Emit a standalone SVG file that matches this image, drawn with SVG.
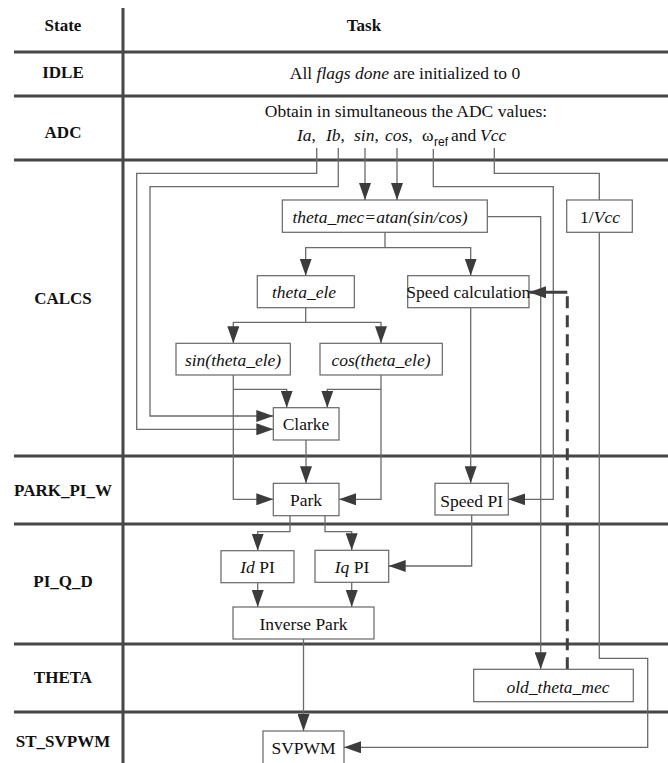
<svg xmlns="http://www.w3.org/2000/svg" width="668" height="763" viewBox="0 0 668 763">
<style>
text{font-family:"Liberation Serif","Times New Roman",serif;font-size:17.5px;fill:#111}
.lbl{font-weight:bold;text-anchor:middle;font-size:17px}
.c{text-anchor:middle}
.i{font-style:italic}
.grid{stroke:#474747;stroke-width:3;fill:none}
.box rect{fill:#fff;stroke:#666;stroke-width:1.2}
.cn{fill:none;stroke:#6a6a6a;stroke-width:1.3}
.dash{fill:none;stroke:#404040;stroke-width:3;stroke-dasharray:12 7}
</style>
<defs>
<marker id="ah" markerUnits="userSpaceOnUse" markerWidth="18" markerHeight="12" refX="17" refY="6" orient="auto">
<path d="M0,0 L17,6 L0,12 z" fill="#3c3c3c"/>
</marker>
</defs>
<rect width="668" height="763" fill="#fff"/>
<g id="grid">
<path class="grid" d="M123,8 V763 M14,52 H668 M14,96 H668 M14,160 H668 M14,456 H668 M14,524 H668 M14,644 H668 M14,712 H668"/>
</g>
<g id="labels">
<text class="lbl" x="63" y="31">State</text>
<text class="lbl" x="364" y="31">Task</text>
<text class="lbl" x="63" y="78">IDLE</text>
<text class="lbl" x="63" y="138">ADC</text>
<text class="lbl" x="63" y="304">CALCS</text>
<text class="lbl" x="63" y="496">PARK_PI_W</text>
<text class="lbl" x="63" y="587">PI_Q_D</text>
<text class="lbl" x="63" y="683">THETA</text>
<text class="lbl" x="63" y="747">ST_SVPWM</text>
<text class="c" x="405" y="79">All <tspan class="i">flags done</tspan> are initialized to 0</text>
<text class="c" x="406" y="117">Obtain in simultaneous the ADC values:</text>
<text y="141"><tspan class="i" x="297">Ia</tspan>, <tspan class="i" x="326">Ib</tspan>, <tspan class="i" x="354">sin</tspan>, <tspan class="i" x="385">cos</tspan>, <tspan x="422">ω</tspan><tspan x="434" dy="5" font-size="12" font-family="Liberation Sans, Arial, sans-serif">ref</tspan><tspan dy="-5" x="451">and</tspan><tspan class="i" x="480">Vcc</tspan></text>
</g>
<g id="connectors">
<path class="cn" d="M316.7,148 V173.3 H136.7 V429.3 H273.3" marker-end="url(#ah)"/>
<path class="cn" d="M338.3,148 V186.7 H150 V416 H273.3" marker-end="url(#ah)"/>
<path class="cn" d="M365,148 V200" marker-end="url(#ah)"/>
<path class="cn" d="M397,148 V200" marker-end="url(#ah)"/>
<path class="cn" d="M433.3,149 V186.7 H553.3 V499.3 H508.3" marker-end="url(#ah)"/>
<path class="cn" d="M494.3,148 V173.3 H599.3 V200"/>
<path class="cn" d="M599.3,232.3 V658.3 H647.7 V747.3 H344" marker-end="url(#ah)"/>
<path class="cn" d="M487.3,216.7 H540.7 V669.3" marker-end="url(#ah)"/>
<path class="cn" d="M385,232.3 V247.7 H305.7 V275.7" marker-end="url(#ah)"/>
<path class="cn" d="M385,247.7 H470.7 V275.7" marker-end="url(#ah)"/>
<path class="cn" d="M305.7,307.7 V322.3 H233.3 V343.3" marker-end="url(#ah)"/>
<path class="cn" d="M305.7,322.3 H381 V343.3" marker-end="url(#ah)"/>
<path class="cn" d="M233.3,375 V499.3 H273.3" marker-end="url(#ah)"/>
<path class="cn" d="M233.3,389.3 H286.7 V407.7" marker-end="url(#ah)"/>
<path class="cn" d="M381,375 V499.3 H339" marker-end="url(#ah)"/>
<path class="cn" d="M381,389.3 H327.3 V407.7" marker-end="url(#ah)"/>
<path class="cn" d="M306,440 V483.3" marker-end="url(#ah)"/>
<path class="cn" d="M470.7,307.7 V483.3" marker-end="url(#ah)"/>
<path class="cn" d="M290,515.7 V531.7 H257.7 V550.7" marker-end="url(#ah)"/>
<path class="cn" d="M325,515.7 V531.7 H351.7 V550.3" marker-end="url(#ah)"/>
<path class="cn" d="M471.7,515 V566 H388.7" marker-end="url(#ah)"/>
<path class="cn" d="M257.7,582.7 V607" marker-end="url(#ah)"/>
<path class="cn" d="M351.7,582.3 V607" marker-end="url(#ah)"/>
<path class="cn" d="M303.5,639 V731" marker-end="url(#ah)"/>
<path class="dash" d="M567.3,669.3 V292.3"/>
<path d="M567.3,292.3 H529" fill="none" stroke="#404040" stroke-width="3" marker-end="url(#ah)"/>
</g>
<g id="n_theta_mec" class="box"><rect x="282.3" y="200" width="205" height="32.3"/><text class="c i" x="380" y="222.5">theta_mec=atan(sin/cos)</text></g>
<g id="n_inv_vcc" class="box"><rect x="566.7" y="200" width="65.6" height="32.3"/><text class="c" x="600" y="222.5">1/<tspan class="i">Vcc</tspan></text></g>
<g id="n_theta_ele" class="box"><rect x="257.3" y="275.7" width="97" height="32"/><text class="c i" x="304" y="298">theta_ele</text></g>
<g id="n_speed_calc" class="box"><rect x="407.7" y="275.7" width="121.3" height="32"/><text class="c" x="468.3" y="297.5">Speed calculation</text></g>
<g id="n_sin" class="box"><rect x="176" y="343.3" width="114.3" height="31.7"/><text class="c i" x="233" y="366">sin(theta_ele)</text></g>
<g id="n_cos" class="box"><rect x="320" y="343.3" width="122.3" height="31.7"/><text class="c i" x="381" y="366">cos(theta_ele)</text></g>
<g id="n_clarke" class="box"><rect x="273.3" y="407.7" width="65.7" height="32.3"/><text class="c" x="306" y="430">Clarke</text></g>
<g id="n_park" class="box"><rect x="273.3" y="483.3" width="65.7" height="32.4"/><text class="c" x="306" y="506">Park</text></g>
<g id="n_speed_pi" class="box"><rect x="435" y="483.3" width="73.3" height="31.7"/><text class="c" x="471.7" y="506.5">Speed PI</text></g>
<g id="n_id_pi" class="box"><rect x="221" y="550.7" width="73" height="32"/><text class="c" x="257.5" y="572.5"><tspan class="i">Id</tspan> PI</text></g>
<g id="n_iq_pi" class="box"><rect x="315" y="550.3" width="73.7" height="32"/><text class="c" x="352" y="572.5"><tspan class="i">Iq</tspan> PI</text></g>
<g id="n_inv_park" class="box"><rect x="233" y="607" width="141" height="32"/><text class="c" x="303.5" y="630">Inverse Park</text></g>
<g id="n_old_theta" class="box"><rect x="473.7" y="669.3" width="159.6" height="32.4"/><text class="c i" x="558" y="693">old_theta_mec</text></g>
<g id="n_svpwm" class="box"><rect x="263" y="731" width="81" height="40"/><text class="c" x="303.5" y="753.5">SVPWM</text></g>
</svg>
